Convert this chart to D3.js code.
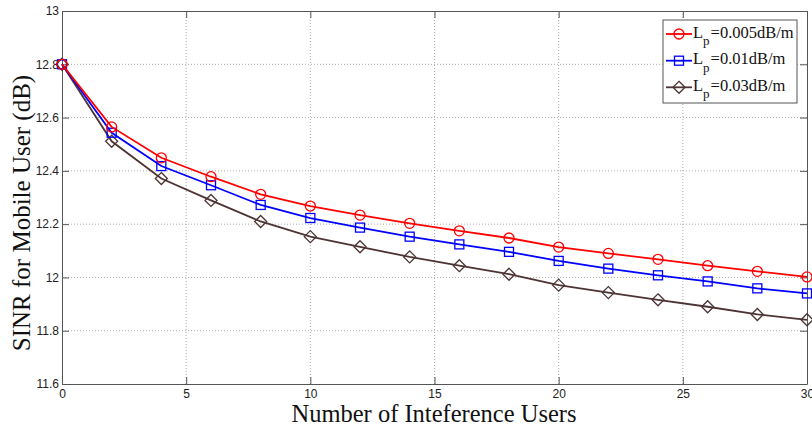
<!DOCTYPE html>
<html>
<head>
<meta charset="utf-8">
<script src="https://cdn.jsdelivr.net/npm/d3@7"></script>
<style>
  html, body { margin: 0; padding: 0; background: #fff; }
  svg { display: block; }
</style>
</head>
<body>
<svg id="chart" width="812" height="427"></svg>
<script>
// ---- data ----
const xValues = [0, 2, 4, 6, 8, 10, 12, 14, 16, 18, 20, 22, 24, 26, 28, 30];
const sinrLp005 = [12.800, 12.565, 12.449, 12.378, 12.312, 12.268, 12.234, 12.203, 12.175, 12.148, 12.114, 12.090, 12.068, 12.044, 12.023, 12.002];
const sinrLp01  = [12.800, 12.543, 12.418, 12.346, 12.272, 12.223, 12.187, 12.153, 12.124, 12.096, 12.062, 12.033, 12.008, 11.985, 11.959, 11.940];
const sinrLp03  = [12.800, 12.511, 12.371, 12.289, 12.210, 12.153, 12.115, 12.077, 12.044, 12.012, 11.971, 11.943, 11.916, 11.890, 11.861, 11.841];
const seriesLabels = ["=0.005dB/m", "=0.01dB/m", "=0.03dB/m"];
const xTicks = [0, 5, 10, 15, 20, 25, 30];
const yTicks = [11.6, 11.8, 12, 12.2, 12.4, 12.6, 12.8, 13];
const xTitle = "Number of Inteference Users";
const yTitle = "SINR for Mobile User (dB)";

const series = [
  { name: seriesLabels[0], values: sinrLp005, color: "#ff0000", marker: "circle" },
  { name: seriesLabels[1], values: sinrLp01,  color: "#0000ff", marker: "square" },
  { name: seriesLabels[2], values: sinrLp03,  color: "#4d3333", marker: "diamond" }
];

// ---- layout ----
const L = 62, R = 807, T = 11, B = 384;
const svg = d3.select("#chart");
const x = d3.scaleLinear().domain([0, 30]).range([L, R]);
const y = d3.scaleLinear().domain([11.6, 13]).range([B, T]);
const axisColor = "#555";
const tickFont = "'Liberation Sans', Arial, sans-serif";
const serif = "'Liberation Serif', 'Times New Roman', serif";

// grid
const grid = svg.append("g");
grid.selectAll("line.gx").data(xTicks.slice(1, -1)).enter().append("line")
  .attr("x1", d => x(d)).attr("x2", d => x(d)).attr("y1", T).attr("y2", B)
  .attr("stroke", "#aaa").attr("stroke-width", 1).attr("stroke-dasharray", "1,2");
grid.selectAll("line.gy").data(yTicks.slice(1, -1)).enter().append("line")
  .attr("y1", d => y(d)).attr("y2", d => y(d)).attr("x1", L).attr("x2", R)
  .attr("stroke", "#aaa").attr("stroke-width", 1).attr("stroke-dasharray", "1,2");

// axes (ticks inward)
const xAxisB = d3.axisBottom(x).tickValues(xTicks).tickFormat(d3.format("d")).tickSizeInner(-7).tickSizeOuter(0).tickPadding(5);
const xAxisT = d3.axisTop(x).tickValues(xTicks).tickFormat("").tickSizeInner(-7).tickSizeOuter(0);
const yAxisL = d3.axisLeft(y).tickValues(yTicks).tickFormat(d => String(+d.toFixed(1))).tickSizeInner(-7).tickSizeOuter(0).tickPadding(3);
const yAxisR = d3.axisRight(y).tickValues(yTicks).tickFormat("").tickSizeInner(-7).tickSizeOuter(0);

function styleAxis(g) {
  g.selectAll("path").attr("stroke", axisColor);
  g.selectAll("line").attr("stroke", axisColor);
  g.selectAll("text").attr("fill", "#222").style("font-family", tickFont).style("font-size", "12px");
}
svg.append("g").attr("transform", `translate(0,${B})`).call(xAxisB).call(styleAxis);
svg.append("g").attr("transform", `translate(0,${T})`).call(xAxisT).call(styleAxis);
svg.append("g").attr("transform", `translate(${L},0)`).call(yAxisL).call(styleAxis);
svg.append("g").attr("transform", `translate(${R},0)`).call(yAxisR).call(styleAxis);

// lines
const line = d3.line().x((d, i) => x(xValues[i])).y(d => y(d));
const plot = svg.append("g");

function drawMarker(g, type, cx, cy, color) {
  if (type === "circle") {
    g.append("circle").attr("cx", cx).attr("cy", cy).attr("r", 5)
      .attr("fill", "none").attr("stroke", color).attr("stroke-width", 1.3);
  } else if (type === "square") {
    g.append("rect").attr("x", cx - 4.5).attr("y", cy - 4.5).attr("width", 9).attr("height", 9)
      .attr("fill", "none").attr("stroke", color).attr("stroke-width", 1.3);
  } else {
    const s = 6;
    g.append("path").attr("d", `M${cx},${cy - s}L${cx + s},${cy}L${cx},${cy + s}L${cx - s},${cy}Z`)
      .attr("fill", "none").attr("stroke", color).attr("stroke-width", 1.3);
  }
}

series.slice().reverse().forEach(s => {
  const g = plot.append("g");
  g.append("path").datum(s.values).attr("d", line)
    .attr("fill", "none").attr("stroke", s.color).attr("stroke-width", 1.8);
  s.values.forEach((v, i) => drawMarker(g, s.marker, x(xValues[i]), y(v), s.color));
});

// axis titles
svg.append("text").attr("x", 434).attr("y", 421.5).attr("text-anchor", "middle")
  .style("font-family", serif).style("font-size", "24.5px")
  .attr("fill", "#111").text(xTitle);
svg.append("text").attr("transform", "translate(30,213) rotate(-90)").attr("text-anchor", "middle")
  .style("font-family", serif).style("font-size", "25px")
  .attr("fill", "#111").text(yTitle);

// legend
const lg = svg.append("g");
lg.append("rect").attr("x", 663).attr("y", 20).attr("width", 134).attr("height", 83)
  .attr("fill", "#fff").attr("stroke", axisColor).attr("stroke-width", 1);
const legY = [34, 60.7, 87.3];
series.forEach((s, i) => {
  const yy = legY[i];
  lg.append("line").attr("x1", 666).attr("x2", 692).attr("y1", yy).attr("y2", yy)
    .attr("stroke", s.color).attr("stroke-width", 1.8);
  drawMarker(lg, s.marker, 679, yy, s.color);
  const t = lg.append("text").attr("x", 693).attr("y", yy + 3.5)
    .style("font-family", serif).style("font-size", "16.5px")
    .attr("fill", "#111");
  t.append("tspan").text("L");
  t.append("tspan").attr("dy", 7.5).style("font-size", "13px").text("p");
  t.append("tspan").attr("dy", -7.5).attr("dx", 1).text(s.name);
});
</script>
</body>
</html>
